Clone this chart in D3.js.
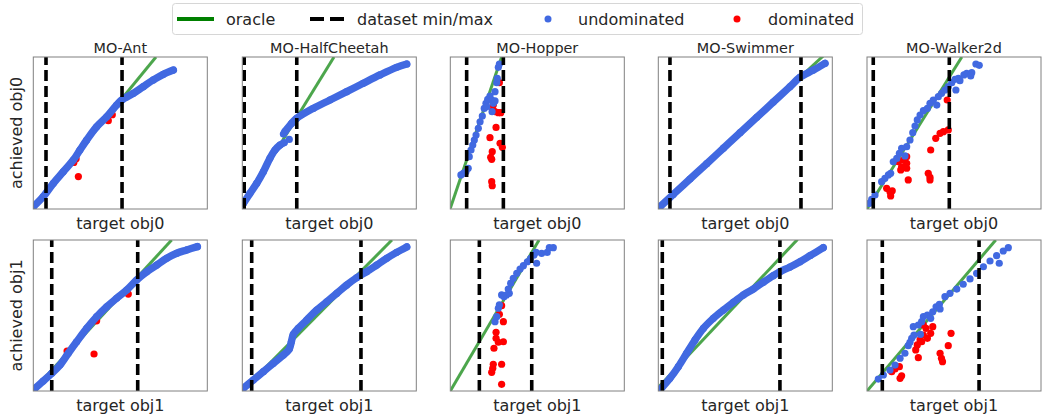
<!DOCTYPE html>
<html>
<head>
<meta charset="utf-8">
<script src="https://cdn.jsdelivr.net/npm/d3@7"></script>
<style>
  body { margin: 0; background: #fff; }
  text { font-family: "DejaVu Sans", sans-serif; fill: #262626; }
</style>
</head>
<body>
<svg id="chart" width="1042" height="415"></svg>
<script>
// values are in % of each axis range (no ticks on the original)
const envs = ["MO-Ant", "MO-HalfCheetah", "MO-Hopper", "MO-Swimmer", "MO-Walker2d"];
const objectives = ["obj0", "obj1"];

// dataset min / max of the target, per objective then env
const datasetMinMax = [
    [[7.3, 51], [1.1, 31.3], [9.4, 30.5], [6.7, 82], [3.6, 47.3]],
    [[10.6, 60], [5.4, 68.2], [16.7, 46.8], [2.3, 69.9], [8.8, 64.4]]
];

// oracle line end points
const oracle = [
    [[[0, 1.5], [70.5, 100]], [[0, 2], [52.7, 100]], [[0, 0.5], [29.5, 100]], [[0, 0.4], [96, 102]], [[0, 0], [54.5, 100]]],
    [[[0, 0.5], [79.5, 100]], [[0, 0], [86, 100]], [[0, 0], [51, 100]], [[-2, 0], [80, 100.4]], [[0, 0], [74, 100]]]
];

// ---- obj0 ----
const antObj0Front = [[0, 1.5], [5.7, 8.1], [11.5, 16.9], [17.2, 24.5], [23, 32.2], [26.8, 38.8], [30.7, 45.4], [36.4, 54.1], [42.2, 60.7], [47.9, 68.4], [50.8, 71.7], [57.5, 76.1], [63.2, 80.5], [69, 84.9], [74.7, 88.6], [80.5, 91.4]];
const antObj0Red = [[25.9, 21.3], [24.6, 33], [23.3, 30.6], [43.1, 58.1], [45.4, 62]];

const cheetahObj0Lower = [[0.6, 3.7], [4.4, 10.3], [8.3, 16.9], [12.1, 24.5], [15.9, 33.4], [18.8, 38.8], [21.7, 42.1], [24, 43.6]];
const cheetahObj0Upper = [[24.5, 50.9], [28.4, 56.4], [31.3, 59.7], [40.8, 66.2], [50.4, 71.7], [60, 77.2], [69.5, 82.7], [79.1, 88.2], [88.7, 93.2], [94.5, 95.4]];
const cheetahObj0Blue = [[23.6, 49.3], [27, 45.8]];

const hopperObj0Blue = [[6.1, 22.4], [7.5, 23.5], [9, 24.5], [10.3, 26.8], [10.9, 34.4], [11.9, 38.8], [12.9, 42.1], [13.8, 45.4], [14.8, 48.7], [16.1, 53.1], [17.1, 57.4], [18.4, 61.2], [19.5, 66.2], [20.5, 69.5], [21.5, 72.2], [22.8, 74.3], [20.9, 67.3], [23.8, 71.7], [24.7, 69.5], [25.7, 71.1], [24, 64], [25.7, 77.2], [26.7, 83.1], [27, 86], [27.6, 93.2], [28.2, 95.4]];
const hopperObj0Red = [[28.2, 83.1], [24.7, 68.4], [24.4, 65.1], [25.7, 64], [27.6, 63.4], [29, 63.4], [26.3, 53.7], [22.8, 46.9], [28.6, 43.2], [29.9, 40.6], [24.1, 37.7], [23.2, 34], [23.8, 32.7], [23.8, 18], [24.1, 15.3]];

const swimmerObj0Front = [[1, 1.5], [8.6, 9.6], [18.2, 19.7], [27.8, 29.8], [37.4, 40], [47, 50.2], [56.6, 60.3], [66.1, 70.4], [75.7, 80.5], [81.4, 86.6], [89.1, 91.4], [95.8, 95.8]];

const walkerObj0Blue = [[1.3, 3.7], [2.7, 6.4], [4.6, 9.2], [8.4, 18], [10.3, 20.2], [12.3, 22.4], [13.6, 23.5], [15.1, 31.1], [17.1, 33.3], [18.6, 36.6], [19.9, 39.9], [21.8, 34.9], [22.8, 41], [24.7, 45.4], [26.3, 50.2], [27.6, 54.6], [28.9, 58.6], [30.5, 61.8], [32.4, 64.7], [34.7, 66.2], [36.2, 69.5], [38.1, 71.7], [40.1, 68.4], [41, 73.9], [42.9, 76.1], [44.8, 78.3], [46.7, 80.5], [48.7, 83.1], [50.6, 85.3], [51.1, 78.3], [53.4, 84.4], [55.7, 88.2], [57.3, 89.3], [59.6, 87.5], [60.2, 89.7], [62.6, 95.4], [64.5, 94.5], [52.5, 86]];
const walkerObj0Red = [[46.1, 71.7], [46.7, 52], [43.9, 50.9], [42, 49.8], [39.5, 46.5], [36.6, 38.8], [22.8, 34.4], [20.9, 32.2], [18, 31.1], [22.8, 30.1], [19.9, 27.8], [22.8, 26.8], [19.4, 25.7], [23.7, 19.1], [35.2, 23.5], [36.2, 20.9], [36.2, 19.1], [11.3, 13.6], [13.2, 11.4], [14.5, 12], [13.6, 8.6]];

// ---- obj1 ----
const antObj1Front = [[1, 1.8], [5.7, 6.6], [10.6, 11.7], [15.3, 17.2], [20.1, 25], [24.9, 32.6], [30.7, 41.5], [36.4, 49.2], [42.2, 55.8], [47.9, 61.4], [53.7, 66.9], [59.4, 73.5], [65.2, 79], [70.9, 83.4], [76.7, 87.9], [82.4, 91.2], [88.2, 93.4], [94.3, 95.6]];
const antObj1Red = [[34.9, 24.5], [54.6, 64.2], [36.4, 46.5], [19.4, 26.5]];

const cheetahObj1Front = [[0.6, 1.8], [6.3, 7.3], [12.1, 12.8], [17.8, 18.3], [23.6, 23.8], [27, 27.8], [28.2, 32.6], [29.3, 37.5], [32.2, 41.5], [37, 47], [42.8, 53.6], [48.5, 59.1], [54.3, 64.7], [60, 70.2], [65.7, 75], [71.5, 79], [77.2, 83.4], [83, 87.9], [88.7, 91.8], [94.5, 95.4]];

const hopperObj1Blue = [[25.7, 45.9], [26.7, 49.2], [27.6, 54.8], [28.2, 57], [29.5, 63.6], [30.9, 62.5], [32.4, 63.6], [33.9, 64.7], [33.3, 67.5], [34.7, 71.3], [36.2, 74.6], [38.2, 77.9], [40.1, 80.8], [42, 83], [44.3, 85.6], [46.2, 87.9], [48.1, 90.1], [49.3, 91.8], [49.6, 84.6], [52.5, 91.2], [55.7, 91.8], [56.9, 94.9], [59.2, 94.9]];
const hopperObj1Red = [[29.5, 56.5], [28.2, 50.8], [30.5, 45.9], [26.3, 38.9], [26.3, 34.9], [27.6, 32.3], [30.5, 32.6], [25.1, 28.3], [24.7, 17.7], [24.4, 15], [23.8, 12.4], [29.5, 17.7], [29.5, 4.4]];

const swimmerObj1Front = [[1.4, 1.3], [6.7, 8.4], [11.5, 16.1], [16.3, 25], [21.1, 33.8], [25.9, 41.5], [31.6, 48.1], [37.4, 53.6], [43.1, 58.7], [48.9, 63.6], [54.6, 67.5], [60.3, 72], [66.1, 76.4], [69.9, 79], [75.7, 82.1], [81.4, 85.6], [87.2, 89.6], [94.8, 94.9]];

const walkerObj1Blue = [[6.5, 7.9], [9.4, 10.6], [13.2, 13.9], [16.1, 17.2], [19, 21.7], [21.8, 25], [23.7, 30], [25.7, 34.9], [26.6, 42.6], [29.5, 43.7], [31.4, 45.9], [32.4, 49.2], [34.7, 50.3], [36.6, 48.1], [37.8, 52.5], [39.7, 55.8], [41.6, 57.4], [42, 54.3], [44.8, 62.5], [47.7, 64.7], [51.6, 67.5], [55.3, 70.7], [59.2, 74.2], [63, 77.9], [66.9, 82.3], [70.7, 86.1], [74.5, 89.6], [78.3, 92.7], [81.2, 94.9], [76, 84.6], [27, 37.1], [30.7, 37.5], [24.7, 32.3]];
const walkerObj1Red = [[14.2, 12.8], [16.1, 14.6], [18.6, 16.1], [19.9, 10.1], [19, 8.4], [28.9, 30.5], [28, 27.2], [29.5, 22.1], [30.5, 33.8], [32.4, 43.7], [33.9, 41.5], [34.7, 34.9], [36.6, 38.2], [37.8, 42.6], [32.4, 37.1], [31.4, 32.6], [42, 25], [42.8, 21.7], [43.4, 19.4], [46.7, 30], [48.3, 38.2]];

// table the drawing code walks through: [row][col]
const panels = [
    [
        { fronts: [antObj0Front], blue: [], red: antObj0Red },
        { fronts: [cheetahObj0Lower, cheetahObj0Upper], blue: cheetahObj0Blue, red: [] },
        { fronts: [], blue: hopperObj0Blue, red: hopperObj0Red },
        { fronts: [swimmerObj0Front], blue: [], red: [] },
        { fronts: [], blue: walkerObj0Blue, red: walkerObj0Red }
    ],
    [
        { fronts: [antObj1Front], blue: [], red: antObj1Red },
        { fronts: [cheetahObj1Front], blue: [], red: [] },
        { fronts: [], blue: hopperObj1Blue, red: hopperObj1Red },
        { fronts: [swimmerObj1Front], blue: [], red: [] },
        { fronts: [], blue: walkerObj1Blue, red: walkerObj1Red }
    ]
];

const legendItems = ["oracle", "dataset min/max", "undominated", "dominated"];

// layout
const panelLeft = [33.3, 242.3, 450.3, 658.3, 867];
const panelWidth = 174;
const rowTop = [57, 240];
const rowHeight = [152, 151];
const blue = "#4169e1", red = "#ff0000", green = "#008000";
const dotR = 3.6;

const svg = d3.select("#chart");
const defs = svg.append("defs");

function add_dots(g, pts, x, y, color) {
    g.append("g")
        .selectAll("circle")
        .data(pts)
        .enter()
        .append("circle")
            .attr("cx", d => x(d[0]))
            .attr("cy", d => y(d[1]))
            .attr("r", dotR)
            .attr("fill", color);
}

function draw_panel(row, col) {
    let p = panels[row][col];
    let w = panelWidth, h = rowHeight[row];
    let x = d3.scaleLinear().domain([0, 100]).range([0, w]);
    let y = d3.scaleLinear().domain([0, 100]).range([h, 0]);
    let g = svg.append("g")
        .attr("transform", `translate(${panelLeft[col]},${rowTop[row]})`);
    let clipId = `clip-${row}-${col}`;
    defs.append("clipPath").attr("id", clipId)
        .append("rect").attr("width", w).attr("height", h);
    let inner = g.append("g").attr("clip-path", `url(#${clipId})`);

    // oracle
    inner.append("path")
        .datum(oracle[row][col])
        .attr("d", d3.line().x(d => x(d[0])).y(d => y(d[1])))
        .attr("stroke", green)
        .attr("stroke-opacity", 0.7)
        .attr("stroke-width", 3)
        .attr("fill", "none");

    // dominated under the undominated ones
    add_dots(inner, p.red, x, y, red);

    // dense undominated fronts drawn as a thick band + the dots on it
    let band = d3.line().x(d => x(d[0])).y(d => y(d[1])).curve(d3.curveCatmullRom);
    p.fronts.forEach(f => {
        inner.append("path")
            .datum(f)
            .attr("d", band)
            .attr("stroke", blue)
            .attr("stroke-width", 7.4)
            .attr("stroke-linecap", "round")
            .attr("stroke-linejoin", "round")
            .attr("fill", "none");
    });
    add_dots(inner, p.fronts.flat().concat(p.blue), x, y, blue);

    // dataset min / max
    inner.append("g")
        .selectAll("line")
        .data(datasetMinMax[row][col])
        .enter()
        .append("line")
            .attr("x1", d => x(d)).attr("x2", d => x(d))
            .attr("y1", h).attr("y2", 0)
            .attr("stroke", "#000")
            .attr("stroke-width", 3.6)
            .attr("stroke-dasharray", "11,5");

    // frame
    g.append("rect")
        .attr("width", w).attr("height", h)
        .attr("fill", "none")
        .attr("stroke", "#808080")
        .attr("stroke-width", 1);

    if (row == 0) {
        g.append("text")
            .attr("x", w / 2).attr("y", -4.5)
            .attr("text-anchor", "middle")
            .style("font-size", "14.4px")
            .text(envs[col]);
    }
    g.append("text")
        .attr("x", w / 2).attr("y", h + 20)
        .attr("text-anchor", "middle")
        .style("font-size", "16px")
        .text("target " + objectives[row]);
    if (col == 0) {
        g.append("text")
            .attr("transform", `translate(-11.5,${h / 2}) rotate(-90)`)
            .attr("text-anchor", "middle")
            .style("font-size", "16px")
            .text("achieved " + objectives[row]);
    }
}

for (let r = 0; r < 2; r++) {
    for (let c = 0; c < 5; c++) draw_panel(r, c);
}

// legend
function add_legend() {
    let lg = svg.append("g");
    lg.append("rect")
        .attr("x", 172.5).attr("y", 3.5)
        .attr("width", 690).attr("height", 31)
        .attr("rx", 3)
        .attr("fill", "#fff")
        .attr("stroke", "#d6d6d6");
    let cy = 19;
    lg.append("line")
        .attr("x1", 177).attr("x2", 214).attr("y1", cy).attr("y2", cy)
        .attr("stroke", green).attr("stroke-width", 4);
    lg.append("line")
        .attr("x1", 310).attr("x2", 344).attr("y1", cy).attr("y2", cy)
        .attr("stroke", "#000").attr("stroke-width", 4)
        .attr("stroke-dasharray", "14,6");
    lg.append("circle").attr("cx", 548).attr("cy", cy).attr("r", 3.5).attr("fill", blue);
    lg.append("circle").attr("cx", 737).attr("cy", cy).attr("r", 3.5).attr("fill", red);
    let textX = [226, 357, 578, 768];
    lg.selectAll("text.item")
        .data(legendItems)
        .enter()
        .append("text")
            .attr("class", "item")
            .attr("x", (d, i) => textX[i])
            .attr("y", cy + 6)
            .style("font-size", "16px")
            .text(d => d);
}
add_legend();
</script>
</body>
</html>
